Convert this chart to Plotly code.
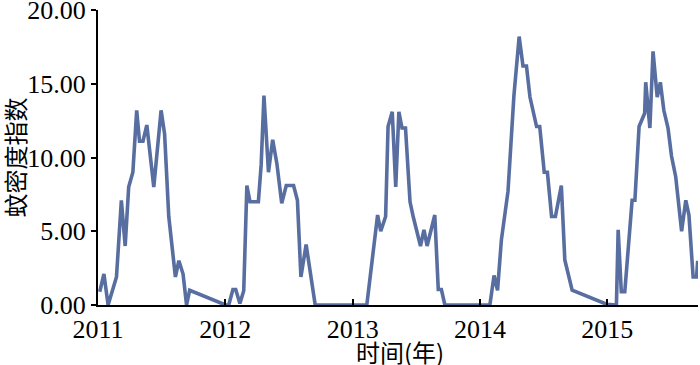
import plotly.graph_objects as go

# Sampling dates
dates = [
    "2011-01-06", "2011-01-18", "2011-01-30", "2011-02-23", "2011-03-09", "2011-03-20",
    "2011-03-30", "2011-04-11", "2011-04-22", "2011-04-30", "2011-05-10", "2011-05-21",
    "2011-06-10", "2011-07-01", "2011-07-11", "2011-07-23", "2011-08-11", "2011-08-21",
    "2011-09-02", "2011-09-12", "2011-09-21",
    "2012-01-02", "2012-01-11", "2012-01-23", "2012-01-31", "2012-02-12", "2012-02-23",
    "2012-03-03", "2012-03-12", "2012-04-05", "2012-04-13", "2012-04-21", "2012-05-04",
    "2012-05-16", "2012-05-28", "2012-06-11", "2012-06-24", "2012-07-15", "2012-07-26",
    "2012-08-05", "2012-08-20", "2012-09-15",
    "2013-02-10", "2013-03-13", "2013-03-22", "2013-04-05", "2013-04-12", "2013-04-24",
    "2013-05-04", "2013-05-13", "2013-05-22", "2013-06-01", "2013-06-14", "2013-06-23",
    "2013-07-14", "2013-07-24", "2013-08-02", "2013-08-24", "2013-09-03", "2013-09-12",
    "2013-09-22",
    "2014-01-29", "2014-02-10", "2014-02-20", "2014-03-03", "2014-03-22", "2014-04-08",
    "2014-04-23", "2014-05-04", "2014-05-14", "2014-05-24", "2014-06-12", "2014-06-21",
    "2014-07-04", "2014-07-13", "2014-07-25", "2014-08-05", "2014-08-22", "2014-09-01",
    "2014-09-22", "2014-12-30",
    "2015-01-27", "2015-02-01", "2015-02-10", "2015-02-20", "2015-03-13", "2015-03-21",
    "2015-04-02", "2015-04-18", "2015-04-21", "2015-05-03", "2015-05-12", "2015-05-24",
    "2015-06-02", "2015-06-12", "2015-06-24", "2015-07-04", "2015-07-16", "2015-08-02",
    "2015-08-14", "2015-08-23", "2015-09-04", "2015-09-14", "2015-09-17",
]

# Mosquito density index values
density = [
    0.9, 2.1, 0.0, 1.9, 7.1, 4.0,
    8.0, 9.0, 13.2, 11.1, 11.1, 12.2,
    8.0, 13.2, 11.6, 6.0, 1.9, 3.0,
    2.1, 0.0, 1.0,
    0.0, 0.0, 1.05, 1.05, 0.1, 0.97,
    8.1, 7.0, 7.0, 9.5, 14.2, 9.0,
    11.2, 9.6, 6.9, 8.1, 8.1, 7.1,
    1.9, 4.1, 0.0,
    0.0, 6.1, 5.0, 6.0, 12.1, 13.1,
    8.0, 13.1, 12.0, 12.0, 7.0, 6.0,
    4.0, 5.1, 4.0, 6.1, 1.05, 1.05,
    0.0,
    0.0, 2.0, 1.0, 4.4, 7.7, 14.2,
    18.2, 16.2, 16.2, 14.1, 12.1, 12.1,
    9.0, 9.0, 6.0, 6.0, 8.1, 3.05,
    1.0, 0.05,
    0.0, 5.1, 0.9, 0.9, 7.1, 7.1,
    12.1, 13.0, 15.1, 12.0, 17.2, 14.1,
    15.1, 13.2, 12.0, 10.1, 8.7, 5.0,
    7.1, 6.1, 1.9, 1.9, 3.0,
]

year_ticks = ["2011-01-01", "2012-01-01", "2013-01-01", "2014-01-01", "2015-01-01", "2015-09-18"]
year_labels = ["2011", "2012", "2013", "2014", "2015", ""]
y_ticks = [0, 5, 10, 15, 20]
x_title = "时间(年)"
y_title = "蚊密度指数"

fig = go.Figure()
fig.add_trace(go.Scatter(
    x=dates, y=density, mode="lines",
    line=dict(color="#586ea0", width=3.6),
    showlegend=False,
))

serif = "Liberation Serif, Times New Roman, serif"
cjk = "Noto Sans CJK SC"

fig.update_layout(
    width=700, height=365,
    margin=dict(l=98, r=2, t=10, b=60),
    plot_bgcolor="white", paper_bgcolor="white",
    font=dict(family=serif, size=26, color="black"),
)
fig.update_xaxes(
    type="date",
    range=["2011-01-01", "2015-09-18"],
    tickmode="array", tickvals=year_ticks, ticktext=year_labels,
    ticks="inside", ticklen=6, tickwidth=2, tickcolor="black",
    showline=True, linecolor="black", linewidth=2,
    showgrid=False, zeroline=False, automargin=False,
    ticklabeloverflow="allow",
    tickfont=dict(family=serif, size=26),
)
fig.update_yaxes(
    range=[0, 20],
    tickmode="array", tickvals=y_ticks, tickformat=".2f",
    ticks="outside", ticklen=5, tickwidth=2, tickcolor="black",
    showline=True, linecolor="black", linewidth=2,
    showgrid=False, zeroline=False, automargin=False,
    ticklabeloverflow="allow",
    tickfont=dict(family=serif, size=26),
)
fig.add_annotation(
    text=y_title, xref="paper", yref="paper", x=-0.14, y=0.5,
    xanchor="center", yanchor="middle", textangle=-90, showarrow=False,
    font=dict(family=cjk, size=24, color="black"),
)
fig.add_annotation(
    text=x_title, xref="paper", yref="paper", x=0.503, y=-0.159,
    xanchor="center", yanchor="middle", showarrow=False,
    font=dict(family=cjk, size=24, color="black"),
)

fig.write_html(
    "out.html",
    config={"displayModeBar": False},
    post_script="document.body.style.margin='0px';",
)
